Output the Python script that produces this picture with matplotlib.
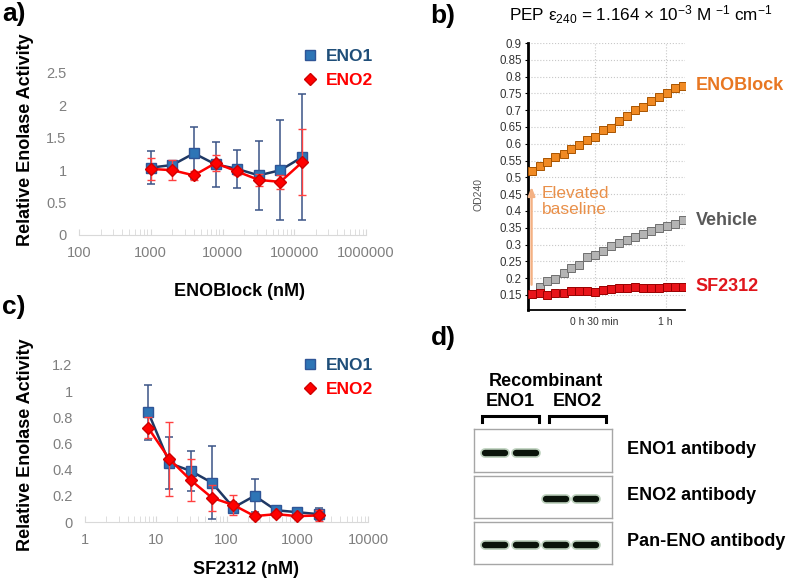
import matplotlib.pyplot as plt
from matplotlib.lines import Line2D
import matplotlib.ticker as mticker

plt.rcParams['font.family'] = ['Liberation Sans', 'DejaVu Sans']
plt.rcParams['mathtext.fontset'] = 'custom'
plt.rcParams['mathtext.rm'] = 'Liberation Sans'

# ---- data ----
eno_conc = [1000, 2000, 4000, 8000, 16000, 32000, 64000, 128000]
a_eno1 = [1.04, 1.08, 1.26, 1.09, 1.02, 0.92, 1.00, 1.20]
a_eno1_err = [0.26, 0.06, 0.40, 0.35, 0.29, 0.53, 0.77, 0.97]
a_eno2 = [1.02, 1.00, 0.92, 1.11, 0.98, 0.85, 0.82, 1.12]
a_eno2_err = [0.17, 0.15, 0.07, 0.12, 0.06, 0.09, 0.11, 0.51]

sf_conc = [7.8125, 15.625, 31.25, 62.5, 125, 250, 500, 1000, 2000]
c_eno1 = [0.84, 0.45, 0.39, 0.30, 0.11, 0.20, 0.09, 0.075, 0.06]
c_eno1_err = [0.21, 0.20, 0.155, 0.28, 0.04, 0.125, 0.035, 0.02, 0.045]
c_eno2 = [0.72, 0.48, 0.32, 0.185, 0.13, 0.045, 0.06, 0.045, 0.05]
c_eno2_err = [0.08, 0.285, 0.16, 0.10, 0.08, 0.02, 0.02, 0.01, 0.04]

# panel b: time (min) and OD240
t_min = [3.4, 6.8, 10.1, 13.5, 16.9, 20.2, 23.6, 27.0, 30.3, 33.7,
         37.1, 40.4, 43.8, 47.2, 50.5, 53.9, 57.3, 60.6, 64.0, 67.4]
od_enoblock = [0.52, 0.535, 0.545, 0.56, 0.57, 0.585, 0.595, 0.61, 0.62, 0.64,
               0.648, 0.668, 0.683, 0.70, 0.71, 0.727, 0.74, 0.75, 0.765, 0.773]
od_vehicle = [0.153, 0.173, 0.19, 0.197, 0.215, 0.23, 0.24, 0.262, 0.27, 0.282,
              0.296, 0.304, 0.314, 0.322, 0.331, 0.341, 0.349, 0.356, 0.361, 0.372]
od_sf2312 = [0.153, 0.157, 0.151, 0.157, 0.155, 0.161, 0.162, 0.161, 0.159, 0.165,
             0.169, 0.171, 0.170, 0.172, 0.170, 0.170, 0.171, 0.172, 0.172, 0.174]
time_ticks = [30, 60]
time_labels = ['0 h 30 min', '1 h']

# panel d: western blot band presence per lane
lanes = [0, 1, 2, 3]
blot_rows = ['ENO1 antibody', 'ENO2 antibody', 'Pan-ENO antibody']
blot_bands = [[1, 1, 0, 0],
              [0, 0, 1, 1],
              [1, 1, 1, 1]]

W, H = 786, 582
fig = plt.figure(figsize=(W / 100, H / 100), dpi=100)


def box(l, t, r, b):
    return [l / W, 1 - b / H, (r - l) / W, (b - t) / H]


def px(x, y):
    return x / W, 1 - y / H


blue_fill = '#2e75b6'
navy = '#1f3864'
red = '#ff0000'
tick_grey = '#7f7f7f'


def dose_panel(rect, conc, y1, e1, y2, e2, xlim, ylim, yticks, xlabel, xlab_pos, ylab_pos, leg_pos):
    ax = fig.add_axes(rect)
    ax.errorbar(conc, y1, yerr=e1, fmt='none', ecolor='#3b5486', elinewidth=1.1, capsize=3, capthick=1.1, zorder=2)
    ax.plot(conc, y1, color=navy, lw=1.8, marker='s', ms=7.5, mfc=blue_fill, mec='#2f5597', zorder=3)
    ax.errorbar(conc, y2, yerr=e2, fmt='none', ecolor='#ff4040', elinewidth=1.0, capsize=3, capthick=1.0, zorder=4)
    ax.plot(conc, y2, color=red, lw=1.8, marker='D', ms=6.5, mfc=red, mec='#d00000', zorder=5)
    ax.set_xscale('log')
    ax.set_xlim(*xlim)
    ax.set_ylim(*ylim)
    ax.set_yticks(yticks)
    ax.yaxis.set_major_formatter(mticker.FuncFormatter(lambda v, p: '{:g}'.format(v)))
    ax.xaxis.set_major_formatter(mticker.FuncFormatter(lambda v, p: '{:d}'.format(int(round(v)))))
    ax.xaxis.set_minor_formatter(mticker.NullFormatter())
    for s in ['left', 'top', 'right']:
        ax.spines[s].set_visible(False)
    ax.spines['bottom'].set_color('#d9d9d9')
    ax.tick_params(axis='x', which='both', direction='in', color='#d9d9d9', length=4, pad=8,
                   labelsize=10.5, labelcolor=tick_grey)
    ax.tick_params(axis='y', length=0, pad=9, labelsize=10.5, labelcolor=tick_grey)
    ax.patch.set_alpha(0)
    fig.text(*px(*xlab_pos), xlabel, ha='center', va='center', fontsize=13, fontweight='bold')
    fig.text(*px(*ylab_pos), 'Relative Enolase Activity', ha='center', va='center', rotation=90,
             fontsize=13, fontweight='bold')
    handles = [Line2D([], [], ls='none', marker='s', ms=7.5, mfc=blue_fill, mec='#2f5597'),
               Line2D([], [], ls='none', marker='D', ms=6.5, mfc=red, mec='#d00000')]
    fig.legend(handles, ['ENO1', 'ENO2'], loc='upper left', bbox_to_anchor=px(*leg_pos), frameon=False,
               labelcolor=['#1f4e79', red], prop={'weight': 'bold', 'size': 12.5},
               handlelength=0.8, handletextpad=0.5, labelspacing=0.5, borderaxespad=0, borderpad=0)
    return ax


dose_panel(box(79, 73, 366, 235), eno_conc, a_eno1, a_eno1_err, a_eno2, a_eno2_err,
           (100, 1e6), (0, 2.5), [0, 0.5, 1, 1.5, 2, 2.5], 'ENOBlock (nM)', (240, 292), (26, 140), (303, 49))
dose_panel(box(85, 365, 368, 522), sf_conc, c_eno1, c_eno1_err, c_eno2, c_eno2_err,
           (1, 1e4), (0, 1.2), [0, 0.2, 0.4, 0.6, 0.8, 1, 1.2], 'SF2312 (nM)', (246, 570), (26, 445), (303, 358))

# ---- panel b ----
axb = fig.add_axes(box(528, 43, 685, 310))
axb.plot(t_min, od_enoblock, color='#e87722', lw=1.2, marker='s', ms=5.5, mfc='#f08a24', mec='#a85400', mew=0.7, zorder=4)
axb.plot(t_min[1:], od_vehicle[1:], ls='none', marker='s', ms=5.5, mfc='#b4b4b4', mec='#6e6e6e', mew=0.7, zorder=3)
axb.plot(t_min, od_sf2312, color='#e01010', lw=0.8, marker='s', ms=5.5, mfc='#e8141a', mec='#9a0000', mew=0.7, zorder=5)
axb.set_xlim(1.9, 68.2)
axb.set_ylim(0.105, 0.9)
axb.set_yticks([0.15 + 0.05 * i for i in range(16)])
axb.yaxis.set_major_formatter(mticker.FuncFormatter(lambda v, p: '{:g}'.format(round(v, 2))))
axb.set_xticks(time_ticks)
axb.set_xticklabels(time_labels)
axb.grid(True, ls=':', color='#c8c8c8', lw=0.8)
axb.set_axisbelow(True)
for s in ['top', 'right']:
    axb.spines[s].set_visible(False)
axb.spines['left'].set_linewidth(2)
axb.spines['bottom'].set_linewidth(1.3)
axb.tick_params(axis='y', length=2.5, pad=2, labelsize=8.3, labelcolor='#333333')
axb.tick_params(axis='x', length=0, pad=5, labelsize=7.5, labelcolor='#333333')
fig.text(*px(479, 195), 'OD240', rotation=90, ha='center', va='center', fontsize=7.5, color='#555555')

label_specs = [(od_enoblock, 'ENOBlock', '#e87722'), (od_vehicle, 'Vehicle', '#595959'), (od_sf2312, 'SF2312', '#e0161c')]
for vals, name, col in label_specs:
    axb.annotate(name, xy=(t_min[-1], vals[-1]), xytext=(9, 0), textcoords='offset points',
                 ha='left', va='center', fontsize=13, fontweight='bold', color=col, annotation_clip=False)
axb.annotate('', xy=(t_min[0], 0.48), xytext=(t_min[0], 0.172),
             arrowprops=dict(arrowstyle='-|>,head_length=0.5,head_width=0.2', color='#f4b183', lw=1.7))
axb.text(7.6, 0.428, 'Elevated\nbaseline', ha='left', va='center', fontsize=12.5, color='#e9904a',
         linespacing=1.15)
fig.text(*px(509, 15), r'PEP $\mathregular{ε_{240}}$ = 1.164 × 10$\mathregular{^{−3}}$ M $\mathregular{^{−1}}$ cm$\mathregular{^{−1}}$',
         ha='left', va='center', fontsize=12.3)

# ---- panel d ----
row_boxes = [(474, 429, 612, 472), (474, 476, 612, 518), (474, 522, 612, 564)]
for rb, name, bands in zip(row_boxes, blot_rows, blot_bands):
    axd = fig.add_axes(box(*rb))
    axd.set_xlim(-0.71, 3.86)
    axd.set_ylim(-1, 1)
    for lane, present in zip(lanes, bands):
        if present:
            axd.plot([lane - 0.33, lane + 0.33], [-0.1, -0.1], color='#3f7a3f', lw=7,
                     solid_capstyle='round', alpha=0.35)
            axd.plot([lane - 0.33, lane + 0.33], [-0.1, -0.1], color='#0b140b', lw=4.6,
                     solid_capstyle='round')
    axd.set_xticks([])
    axd.set_yticks([])
    for s in axd.spines.values():
        s.set_color('#a6a6a6')
        s.set_linewidth(1)
    fig.text(*px(627, (rb[1] + rb[3]) / 2 - 1), name, ha='left', va='center', fontsize=13, fontweight='bold')

# brackets and header
ov = fig.add_axes([0, 0, 1, 1])
ov.set_xlim(0, W)
ov.set_ylim(H, 0)
ov.axis('off')
for l, r in [(482, 539), (549, 606)]:
    ov.plot([l, l, r, r], [422, 416, 416, 422], color='black', lw=2.2, solid_joinstyle='miter')
fig.text(*px(546, 381), 'Recombinant', ha='center', va='center', fontsize=13, fontweight='bold')
fig.text(*px(510, 401), 'ENO1', ha='center', va='center', fontsize=13, fontweight='bold')
fig.text(*px(577, 401), 'ENO2', ha='center', va='center', fontsize=13, fontweight='bold')

# panel letters
for letter, x, y in [('a)', 14, 14), ('b)', 443, 16), ('c)', 14, 307), ('d)', 443, 338)]:
    fig.text(*px(x, y), letter, ha='center', va='center', fontsize=19, fontweight='bold')

fig.savefig('out.png', dpi=100)
